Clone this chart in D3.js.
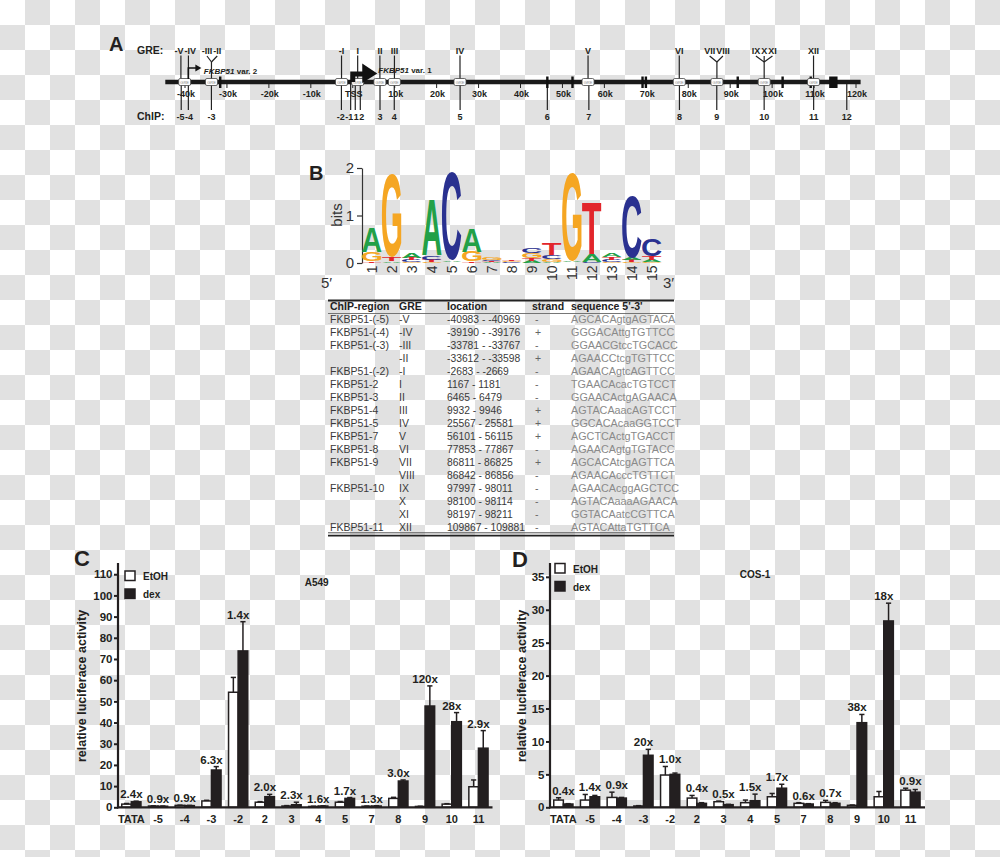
<!DOCTYPE html>
<html><head><meta charset="utf-8">
<script src="https://cdn.jsdelivr.net/npm/d3@7"></script>
<style>body{margin:0;background:#fff} svg{display:block} text{font-family:"Liberation Sans",Arial,Helvetica,sans-serif}</style>
</head><body><svg id="fig" width="1000" height="857"></svg>
<script>
// ---------------- DATA ----------------
// Panel A : gene map (positions in kb relative to TSS)
const mapTickKb = [-40,-30,-20,-10,0,10,20,30,40,50,60,70,80,90,100,110,120];
const mapTickLabels = ["-40k","-30k","-20k","-10k","TSS","10k","20k","30k","40k","50k","60k","70k","80k","90k","100k","110k","120k"];
const geneSpanKb = [-44.7, 121.1];
const exonKb = [-31.6, 46.4, 52.4, 69.1, 69.9, 91.8, 102.5, 109.2];
const lastExonKb = [113.6, 115.6];
const var1StartKb = 0;
const var2StartKb = -39.2;
const chipLabels = ["-5","-4","-3","-2","-1","1","2","3","4","5","6","7","8","9","10","11","12"];
const chipPosKb = [-40.9,-39.2,-33.7,-2.7,-0.5,0.6,1.8,6.5,9.9,25.6,46.4,56.3,77.9,86.8,98.1,109.9,117.8];
const greForkGroups = [["-V"],["-IV"],["-III","-II"],["-I"],["I"],["II"],["III"],["IV"],["V"],["VI"],["VII","VIII"],["IX","X","XI"],["XII"]];
const greBoxGroups = [["-V","-IV"],["-III","-II"],["-I"],["I"],["II"],["III"],["IV"],["V"],["VI"],["VII","VIII"],["IX","X","XI"],["XII"]];

// Panel B : table
const chipRegion = ["FKBP51-(-5)","FKBP51-(-4)","FKBP51-(-3)","","FKBP51-(-2)","FKBP51-2","FKBP51-3","FKBP51-4","FKBP51-5","FKBP51-7","FKBP51-8","FKBP51-9","","FKBP51-10","","","FKBP51-11"];
const greNames = ["-V","-IV","-III","-II","-I","I","II","III","IV","V","VI","VII","VIII","IX","X","XI","XII"];
const greStart = [-40983,-39190,-33781,-33612,-2683,1167,6465,9932,25567,56101,77853,86811,86842,97997,98100,98197,109867];
const greEnd   = [-40969,-39176,-33767,-33598,-2669,1181,6479,9946,25581,56115,77867,86825,86856,98011,98114,98211,109881];
const strands  = ["-","+","-","+","-","-","-","+","+","+","-","+","-","-","-","-","-"];
const sequences = ["AGCACAgtgAGTACA","GGGACAttgTGTTCC","GGAACGtccTGCACC","AGAACCtcgTGTTCC","AGAACAgtcAGTTCC","TGAACAcacTGTCCT","GGAACActgAGAACA","AGTACAaacAGTCCT","GGCACAcaaGGTCCT","AGCTCActgTGACCT","AGAACAgtgTGTACC","AGCACAtcgAGTTCA","AGAACAcccTGTTCT","AGAACAcggAGCTCC","AGTACAaaaAGAACA","GGTACAatcCGTTCA","AGTACAttaTGTTCA"];
const tableHeader = ["ChIP-region","GRE","location","strand","sequence 5'-3'"];

// Panel B : sequence logo (bits per base and position)
const logoPositions = [1,2,3,4,5,6,7,8,9,10,11,12,13,14,15];
const logoA = [0.53,0.03,0.10,1.18,0.03,0.50,0.02,0.01,0.05,0.03,0.02,0.15,0.09,0.05,0.04];
const logoC = [0.01,0.01,0.04,0.09,1.85,0.01,0.03,0.02,0.12,0.08,0.01,0.02,0.04,1.30,0.36];
const logoG = [0.20,1.75,0.03,0.03,0.01,0.21,0.05,0.02,0.10,0.06,1.87,0.01,0.03,0.02,0.03];
const logoT = [0.03,0.08,0.04,0.04,0.01,0.02,0.02,0.02,0.06,0.25,0.01,1.08,0.05,0.04,0.07];
const logoTicks = [0,1,2];

// Panels C and D
const categories = ["TATA","-5","-4","-3","-2","2","3","4","5","7","8","9","10","11"];
const C_etoh    = [1.5,0.6,0.9,3.0,54.3,2.4,0.6,0.4,2.4,0.5,4.2,0.4,1.5,9.7];
const C_etohErr = [0.3,0.1,0.1,0.3,7.0,0.3,0.2,0.1,0.3,0.1,0.5,0.1,0.2,3.2];
const C_dex     = [2.6,0.5,0.8,17.6,73.8,5.0,1.2,0.6,4.2,0.6,12.4,47.8,40.4,27.9];
const C_dexErr  = [0.3,0.1,0.1,1.6,13.8,1.1,1.2,0.1,0.4,0.1,0.5,9.5,4.3,8.3];
const C_fold    = ["2.4x","0.9x","0.9x","6.3x","1.4x","2.0x","2.3x","1.6x","1.7x","1.3x","3.0x","120x","28x","2.9x"];
const C_ticks   = [0,10,20,30,40,50,60,70,80,90,100,110];

const D_etoh    = [1.1,1.1,1.5,0.2,4.9,1.4,0.85,0.7,1.6,0.6,0.75,0.3,1.6,2.6];
const D_etohErr = [0.35,0.85,0.8,0.05,1.3,0.4,0.1,0.4,0.5,0.1,0.3,0.05,0.8,0.3];
const D_dex     = [0.5,1.6,1.4,7.9,5.0,0.6,0.4,1.0,2.9,0.5,0.6,12.85,28.3,2.3];
const D_dexErr  = [0.05,0.2,0.1,0.9,0.2,0.1,0.05,1.0,0.6,0.05,0.1,1.25,2.7,0.4];
const D_fold    = ["0.4x","1.4x","0.9x","20x","1.0x","0.4x","0.5x","1.5x","1.7x","0.6x","0.7x","38x","18x","0.9x"];
const D_ticks   = [0,5,10,15,20,25,30,35];

// ---------------- DRAWING ----------------
const FONT = '"Liberation Sans", Arial, Helvetica, sans-serif';
const INK = "#231f20";
const svg = d3.select("#fig");
const defs = svg.append("defs");
const pat = defs.append("pattern").attr("id","checker").attr("width",50).attr("height",50).attr("patternUnits","userSpaceOnUse");
pat.append("rect").attr("width",50).attr("height",50).attr("fill","#ffffff");
pat.append("rect").attr("x",25).attr("y",0).attr("width",25).attr("height",25).attr("fill","#e1e1e1");
pat.append("rect").attr("x",0).attr("y",25).attr("width",25).attr("height",25).attr("fill","#e1e1e1");
svg.append("rect").attr("width",1000).attr("height",857).attr("fill","url(#checker)");

const mctx = document.createElement("canvas").getContext("2d");
function textW(s, font){ mctx.font = font; return mctx.measureText(s).width; }
function relax(arr, gap){
  arr.sort((a,b)=>a.x-b.x);
  for(let it=0; it<30; it++){
    for(let i=1;i<arr.length;i++){
      const a=arr[i-1], b=arr[i];
      if(a.group && a.group===b.group) continue;
      const ov = (a.x+a.w/2+gap) - (b.x-b.w/2);
      if(ov>0){ a.x -= ov/2; b.x += ov/2; }
    }
  }
}
function label(g, x, y, s, size, opts={}){
  return g.append("text").attr("x",x).attr("y",y).text(s)
    .attr("font-size",size).attr("font-weight",opts.weight||"bold")
    .attr("text-anchor",opts.anchor||"start").attr("fill",opts.fill||INK)
    .attr("font-family",opts.family||FONT);
}

// ===== Panel A =====
const gA = svg.append("g");
const xA = d3.scaleLinear().domain([-40,120]).range([185,856]);
const yLine = 82;
const grePosKb = greStart.map((s,i)=>(s+greEnd[i])/2000);
const greKb = n => grePosKb[greNames.indexOf(n)];

label(gA, 109, 51, "A", 20);
label(gA, 137, 54, "GRE:", 10.5);
label(gA, 137, 120, "ChIP:", 10.5);

// GRE labels & fork lines
const labFont = 'bold 9px "Liberation Sans"';
const greLabs = [];
greForkGroups.forEach(grp=>{
  const gx = xA(d3.mean(grp, greKb));
  const ws = grp.map(n=>textW(n,labFont));
  const total = d3.sum(ws) + (grp.length-1)*1;
  let cur = gx - total/2;
  const key = grp.join("|");
  grp.forEach((n,k)=>{ greLabs.push({name:n, x:cur+ws[k]/2, w:ws[k], gx, group:grp.length>1?key:null, n:grp.length}); cur += ws[k]+1; });
});
relax(greLabs, 1);
const lineStyle = sel => sel.attr("stroke","#222").attr("stroke-width",1.2);
greForkGroups.forEach(grp=>{
  const gx = xA(d3.mean(grp, greKb));
  if(grp.length===1){
    gA.append("line").attr("x1",gx).attr("x2",gx).attr("y1",55.5).attr("y2",yLine).call(lineStyle);
  } else {
    greLabs.filter(l=>grp.includes(l.name)).forEach(l=>{
      gA.append("line").attr("x1",l.x).attr("x2",gx).attr("y1",56).attr("y2",62).call(lineStyle);
    });
    gA.append("line").attr("x1",gx).attr("x2",gx).attr("y1",62).attr("y2",yLine).call(lineStyle);
  }
});
greLabs.forEach(l=>label(gA, l.x, 53.5, l.name, 9, {anchor:"middle"}));

// ChIP lines and labels
const chipLabs = chipLabels.map((s,i)=>({name:s, x:xA(chipPosKb[i]), w:textW(s,labFont), lx:xA(chipPosKb[i])}));
chipLabs.forEach(c=>gA.append("line").attr("x1",c.lx).attr("x2",c.lx).attr("y1",yLine).attr("y2",110).call(lineStyle));
relax(chipLabs, 0.5);
chipLabs.forEach(c=>label(gA, c.x, 120, c.name, 9, {anchor:"middle"}));

// map ticks
mapTickKb.forEach((k,i)=>{
  gA.append("line").attr("x1",xA(k)).attr("x2",xA(k)).attr("y1",84).attr("y2",88).attr("stroke","#222").attr("stroke-width",1);
  label(gA, xA(k)+1, 97, mapTickLabels[i], 9, {anchor:"middle"});
});

// main gene line
gA.append("line").attr("x1",xA(geneSpanKb[0])).attr("x2",xA(geneSpanKb[1])).attr("y1",yLine).attr("y2",yLine)
  .attr("stroke","#1a1a1a").attr("stroke-width",4.5);
exonKb.forEach(k=>gA.append("rect").attr("x",xA(k)-1.2).attr("y",76.5).attr("width",2.4).attr("height",11.5).attr("fill","#111"));
gA.append("rect").attr("x",xA(lastExonKb[0])).attr("y",76.5).attr("width",xA(lastExonKb[1])-xA(lastExonKb[0])).attr("height",11.5).attr("fill","#111");

// GRE boxes
greBoxGroups.forEach(grp=>{
  const bx = xA(d3.mean(grp, greKb));
  gA.append("rect").attr("x",bx-6).attr("y",78.5).attr("width",12).attr("height",7).attr("rx",1.5)
    .attr("fill","#fff").attr("stroke","#444").attr("stroke-width",0.8);
  gA.append("text").attr("x",bx).attr("y",83.6).text("GRE").attr("font-size",4).attr("text-anchor","middle").attr("fill","#888").attr("font-family",FONT);
});

// TSS arrow (var. 1)
const t0 = xA(var1StartKb);
gA.append("path").attr("d",`M${t0-2.5},${yLine} V71.5 H${t0+9.5} V63.5 L${t0+24.5},73.5 L${t0+9.5},83 V76.5 H${t0+2.5} V${yLine} Z`).attr("fill","#111");
const v1 = gA.append("text").attr("x",t0+25.5).attr("y",72.5).attr("font-size",8).attr("font-weight","bold").attr("fill",INK).attr("font-family",FONT);
v1.append("tspan").attr("font-style","italic").text("FKBP51");
v1.append("tspan").text(" var. 1");
// var. 2 arrow
const t2 = xA(var2StartKb);
gA.append("path").attr("d",`M${t2},79 V68 H${t2+8}`).attr("fill","none").attr("stroke","#111").attr("stroke-width",1.6);
gA.append("path").attr("d",`M${t2+7},64.5 L${t2+13},68 L${t2+7},71.5 Z`).attr("fill","#111");
const v2 = gA.append("text").attr("x",t2+15.5).attr("y",73.5).attr("font-size",8).attr("font-weight","bold").attr("fill",INK).attr("font-family",FONT);
v2.append("tspan").attr("font-style","italic").text("FKBP51");
v2.append("tspan").text(" var. 2");

// ===== Panel B : logo =====
const gB = svg.append("g");
label(gB, 309, 180, "B", 20);
const xL = d3.scaleBand().domain(logoPositions).range([362,661.5]).paddingInner(0.03);
const yL = d3.scaleLinear().domain([0,2]).range([263,168]);
const la = gB.append("g").attr("transform","translate(362,0)")
  .call(d3.axisLeft(yL).tickValues(logoTicks).tickSize(5).tickSizeOuter(0).tickPadding(3).tickFormat(d3.format("d")));
la.attr("font-family",FONT).attr("font-size",15);
la.selectAll("path,line").attr("stroke","#333").attr("stroke-width",1.2);
la.selectAll("text").attr("fill","#333");
gB.append("text").attr("transform","translate(342,215) rotate(-90)").attr("text-anchor","middle")
  .attr("font-size",15).attr("fill","#333").attr("font-family",FONT).text("bits");
const baseColors = {A:"#22a047", C:"#2a3190", G:"#f5a623", T:"#e2252b"};
const logoData = {A:logoA, C:logoC, G:logoG, T:logoT};
const bases = ["A","C","G","T"];
const gm = {};
mctx.font = 'bold 100px "Liberation Sans"';
bases.forEach(b=>{ const m = mctx.measureText(b); gm[b] = {l:m.actualBoundingBoxLeft, r:m.actualBoundingBoxRight, a:m.actualBoundingBoxAscent, d:m.actualBoundingBoxDescent}; });
logoPositions.forEach((p,i)=>{
  const stack = bases.map(b=>({b, h:logoData[b][i]})).sort((u,v)=>u.h-v.h);
  let acc = 0;
  stack.forEach(s=>{
    const yb = yL(acc), yt = yL(acc+s.h);
    const h = yb-yt;
    acc += s.h;
    if(h<0.3) return;
    const w = xL.bandwidth(), m = gm[s.b];
    const sx = w/(m.l+m.r), sy = h/(m.a+m.d);
    gB.append("text").text(s.b).attr("font-size",100).attr("font-weight","bold").attr("fill",baseColors[s.b])
      .attr("font-family",FONT)
      .attr("transform",`translate(${xL(p)},${yt}) scale(${sx},${sy}) translate(${m.l},${m.a})`);
  });
  const cx = xL(p)+xL.bandwidth()/2;
  gB.append("text").attr("transform",`translate(${cx},265.5) rotate(-90)`).attr("text-anchor","end")
    .attr("dominant-baseline","central").attr("font-size",14).attr("fill","#333").attr("font-family",FONT).text(p);
});
label(gB, 321, 288, "5\u2032", 15, {weight:"normal", fill:"#333"});
label(gB, 663, 288, "3\u2032", 15, {weight:"normal", fill:"#333"});

// ===== Panel B : table =====
const gT = svg.append("g");
const colX = [330,399,447,535,571];
const headX = [330,399,447,532,571];
gT.append("line").attr("x1",328).attr("x2",674).attr("y1",300.5).attr("y2",300.5).attr("stroke","#222").attr("stroke-width",2);
tableHeader.forEach((h,i)=>label(gT, headX[i], 310, h, 10.5, {fill:"#222"}));
gT.append("line").attr("x1",328).attr("x2",674).attr("y1",313.5).attr("y2",313.5).attr("stroke","#666").attr("stroke-width",0.9);
const rowY = i => 323 + 13*i;
greNames.forEach((n,i)=>{
  const y = rowY(i);
  if(chipRegion[i]) label(gT, colX[0], y, chipRegion[i], 10.5, {weight:"normal", fill:"#3a3a3a"});
  label(gT, colX[1], y, n, 10.5, {weight:"normal", fill:"#3a3a3a"});
  label(gT, colX[2], y, `${greStart[i]} - ${greEnd[i]}`, 10.3, {weight:"normal", fill:"#3a3a3a"});
  label(gT, colX[3], y, strands[i], 10.5, {weight:"normal", fill:"#666"});
  label(gT, colX[4], y, sequences[i], 10.8, {weight:"normal", fill:"#8a8a8a", family:'"Liberation Mono","DejaVu Sans Mono",monospace'});
});
gT.append("line").attr("x1",328).attr("x2",674).attr("y1",532.8).attr("y2",532.8).attr("stroke","#555").attr("stroke-width",1);
gT.append("line").attr("x1",328).attr("x2",674).attr("y1",535.6).attr("y2",535.6).attr("stroke","#222").attr("stroke-width",1.6);

// ===== Panels C & D =====
function barPanel(c){
  const g = svg.append("g");
  const x = d3.scalePoint().domain(categories).range([c.x0, c.x0+14*26.7]).padding(0.5);
  const y = d3.scaleLinear().domain([0, c.yTop]).range([807.3, 563]);
  const bw = 9.6;
  label(g, c.letterX, c.letterY, c.letter, 22);
  // bars
  g.selectAll(".etoh").data(categories).join("rect")
    .attr("x",d=>x(d)-bw).attr("y",(d,i)=>y(c.etoh[i])).attr("width",bw).attr("height",(d,i)=>y(0)-y(c.etoh[i]))
    .attr("fill","#fff").attr("stroke",INK).attr("stroke-width",1.5);
  g.selectAll(".dex").data(categories).join("rect")
    .attr("x",d=>x(d)).attr("y",(d,i)=>y(c.dex[i])).attr("width",bw).attr("height",(d,i)=>y(0)-y(c.dex[i]))
    .attr("fill",INK).attr("stroke",INK).attr("stroke-width",1.5);
  // error bars
  function err(xc, v, e){
    g.append("line").attr("x1",xc).attr("x2",xc).attr("y1",y(v)).attr("y2",y(v+e)).attr("stroke",INK).attr("stroke-width",1.5);
    g.append("line").attr("x1",xc-2.6).attr("x2",xc+2.6).attr("y1",y(v+e)).attr("y2",y(v+e)).attr("stroke",INK).attr("stroke-width",1.5);
  }
  categories.forEach((d,i)=>{
    err(x(d)-bw/2, c.etoh[i], c.etohErr[i]);
    err(x(d)+bw/2, c.dex[i], c.dexErr[i]);
    const top = Math.max(c.etoh[i]+c.etohErr[i], c.dex[i]+c.dexErr[i]);
    label(g, x(d), y(top)-3, c.fold[i], 11.5, {anchor:"middle"});
    label(g, x(d), 822.5, d, 11, {anchor:"middle"});
  });
  // y axis
  const ag = g.append("g").attr("transform",`translate(${c.x0},0)`)
    .call(d3.axisLeft(y).tickValues(c.ticks).tickSize(4).tickPadding(1.5).tickSizeOuter(0));
  ag.select(".domain").remove();
  ag.attr("font-family",FONT).attr("font-size",11.5).attr("font-weight","bold");
  ag.selectAll("line").attr("stroke",INK).attr("stroke-width",2);
  ag.selectAll("text").attr("fill",INK);
  g.append("line").attr("x1",c.x0).attr("x2",c.x0).attr("y1",563).attr("y2",808.3).attr("stroke",INK).attr("stroke-width",2.2);
  g.append("line").attr("x1",c.x0-1).attr("x2",c.xEnd).attr("y1",807.3).attr("y2",807.3).attr("stroke",INK).attr("stroke-width",2.2);
  g.append("text").attr("transform",`translate(${c.ylabX},686) rotate(-90)`).attr("text-anchor","middle")
    .attr("font-size",12.5).attr("font-weight","bold").attr("fill",INK).attr("font-family",FONT).text("relative luciferace activity");
  // legend
  g.append("rect").attr("x",c.legX).attr("y",c.legY).attr("width",10).attr("height",9.5).attr("fill","#fff").attr("stroke",INK).attr("stroke-width",1.5);
  g.append("rect").attr("x",c.legX).attr("y",c.legY+18).attr("width",10).attr("height",9.5).attr("fill",INK).attr("stroke",INK).attr("stroke-width",1.5);
  label(g, c.legX+18, c.legY+9, "EtOH", 10);
  label(g, c.legX+18, c.legY+27, "dex", 10);
  label(g, c.titleX, c.titleY, c.title, 10, {anchor:"middle"});
}
barPanel({x0:118, xEnd:492.5, yTop:115.3, ticks:C_ticks, etoh:C_etoh, etohErr:C_etohErr, dex:C_dex, dexErr:C_dexErr, fold:C_fold,
  letter:"C", letterX:74, letterY:566, ylabX:86, legX:125, legY:571, title:"A549", titleX:316.7, titleY:585.5});
barPanel({x0:550, xEnd:925, yTop:37.1, ticks:D_ticks, etoh:D_etoh, etohErr:D_etohErr, dex:D_dex, dexErr:D_dexErr, fold:D_fold,
  letter:"D", letterX:512, letterY:567, ylabX:525.5, legX:555, legY:563.5, title:"COS-1", titleX:755, titleY:577.5});
</script></body></html>
